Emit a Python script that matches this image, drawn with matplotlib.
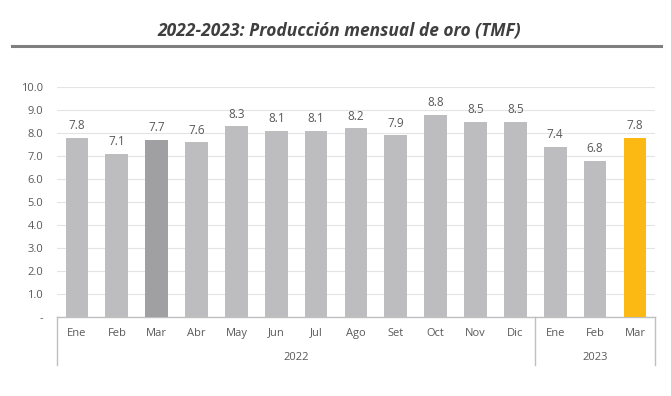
import matplotlib.pyplot as plt
import numpy as np

plt.rcParams['font.family'] = ['Open Sans', 'DejaVu Sans']

months = ['Ene', 'Feb', 'Mar', 'Abr', 'May', 'Jun', 'Jul', 'Ago', 'Set', 'Oct', 'Nov', 'Dic',
          'Ene', 'Feb', 'Mar']
values = [7.8, 7.1, 7.7, 7.6, 8.3, 8.1, 8.1, 8.2, 7.9, 8.8, 8.5, 8.5, 7.4, 6.8, 7.8]
years = ['2022', '2023']
year_counts = [12, 3]

grey = '#BDBDC0'
colors = [grey] * len(values)
colors[2] = '#A0A0A2'
colors[-1] = '#FDB913'
txt = '#595959'

fig = plt.figure(figsize=(6.71, 3.96), dpi=100)
ax = fig.add_axes([0.085, 0.1995, 0.891, 0.5805])

x = np.arange(len(values))
ax.bar(x, values, width=0.57, color=colors, zorder=3)
for xi, v in zip(x, values):
    ax.annotate(f'{v:.1f}', (xi, v), xytext=(0, 4), textcoords='offset points',
                ha='center', va='bottom', fontsize=8.5, color=txt)

ax.set_xlim(-0.5, len(values) - 0.5)
ax.set_ylim(0, 10)
yt = np.arange(0, 11, 1)
ax.set_yticks(yt)
ax.set_yticklabels(['-'] + [f'{t:.1f}' for t in yt[1:]], fontsize=8, color=txt)
ax.grid(axis='y', color='#E4E4E4', linewidth=0.8, zorder=0)
ax.tick_params(axis='y', length=0, pad=10)
ax.set_xticks([])
for s in ['top', 'right', 'left']:
    ax.spines[s].set_visible(False)
ax.spines['bottom'].set_color('#BFBFBF')
ax.spines['bottom'].set_linewidth(1.0)

# category box below axis
trans = ax.get_xaxis_transform()
bottom = -0.21
bounds = [-0.5]
for c in year_counts:
    bounds.append(bounds[-1] + c)
for b in bounds:
    ax.plot([b, b], [0, bottom], transform=trans, color='#BFBFBF', lw=1.0, clip_on=False)
for xi, m in zip(x, months):
    ax.text(xi, -0.07, m, transform=trans, ha='center', va='center', fontsize=8, color=txt)
for i, y in enumerate(years):
    mid = (bounds[i] + bounds[i + 1]) / 2
    ax.text(mid, -0.175, y, transform=trans, ha='center', va='center', fontsize=8, color=txt)

fig.text(0.505, 0.923, '2022-2023: Producción mensual de oro (TMF)', ha='center', va='center',
         fontsize=12.5, fontweight='bold', fontstyle='italic', color='#3F3F3F')
fig.add_artist(plt.Line2D([0.018, 0.985], [0.884, 0.884], color='#7F7F7F', lw=2.2))

plt.savefig('out.png', dpi=100)
